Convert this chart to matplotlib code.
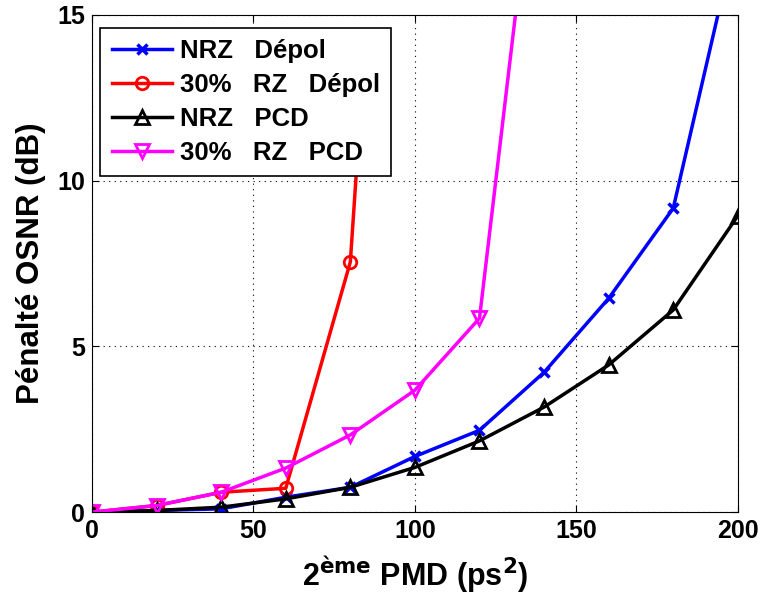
import matplotlib
matplotlib.use("Agg")
import matplotlib.pyplot as plt

plt.rcParams['font.family'] = ['Liberation Sans', 'DejaVu Sans']
plt.rcParams['font.weight'] = 'bold'
plt.rcParams['mathtext.default'] = 'bf'

# PMD (ps^2)
pmd = [0, 20, 40, 60, 80, 100, 120, 140, 160, 180, 200]

# pénalité OSNR (dB)
nrz_depol = [0, 0.05, 0.1, 0.45, 0.75, 1.68, 2.47, 4.22, 6.45, 9.17, 17.6]
rz_depol_x = [0, 20, 40, 60, 80, 83]
rz_depol = [0, 0.2, 0.6, 0.72, 7.55, 11.9]
nrz_pcd = [0, 0.05, 0.15, 0.4, 0.75, 1.35, 2.15, 3.17, 4.44, 6.1, 8.94]
rz_pcd_x = [0, 20, 40, 60, 80, 100, 120, 140]
rz_pcd = [0, 0.2, 0.6, 1.33, 2.33, 3.68, 5.85, 22.3]

fig = plt.figure(figsize=(7.63, 5.99), dpi=100)
ax = fig.add_axes([0.1206, 0.145, 0.8464, 0.83])

ax.plot(pmd, nrz_depol, color='blue', lw=2.5, marker='x', ms=7, mew=2.5, label='NRZ   Dépol')
ax.plot(rz_depol_x, rz_depol, color='red', lw=2.5, marker='o', ms=9, mfc='none', mew=2,
        markevery=[0, 1, 2, 3, 4], label='30%   RZ   Dépol')
ax.plot(pmd, nrz_pcd, color='black', lw=2.5, marker='^', ms=10, mfc='none', mew=2, label='NRZ   PCD')
ax.plot(rz_pcd_x, rz_pcd, color='magenta', lw=2.5, marker='v', ms=10, mfc='none', mew=2, label='30%   RZ   PCD')

ax.set_xlim(0, 200)
ax.set_ylim(0, 15)
ax.set_xticks([0, 50, 100, 150, 200])
ax.set_yticks([0, 5, 10, 15])
ax.tick_params(direction='in', labelsize=18, top=True, right=True, length=5, pad=5)
ax.grid(True, linestyle=(0, (1, 4)), color='black', lw=0.8)

ax.set_xlabel('2$^{ème}$ PMD (ps$^{2}$)', fontsize=22, fontweight='bold', labelpad=8)
ax.set_ylabel('Pénalté OSNR (dB)', fontsize=22.5, fontweight='bold', labelpad=8)

leg = ax.legend(loc='upper left', bbox_to_anchor=(0.0124, 0.974), borderaxespad=0,
                fontsize=18.5, fancybox=False, framealpha=1, edgecolor='black',
                handlelength=2.35, handletextpad=0.3, borderpad=0.45, labelspacing=0.38)
leg.get_frame().set_linewidth(1.2)

fig.savefig('out.png', dpi=100)
